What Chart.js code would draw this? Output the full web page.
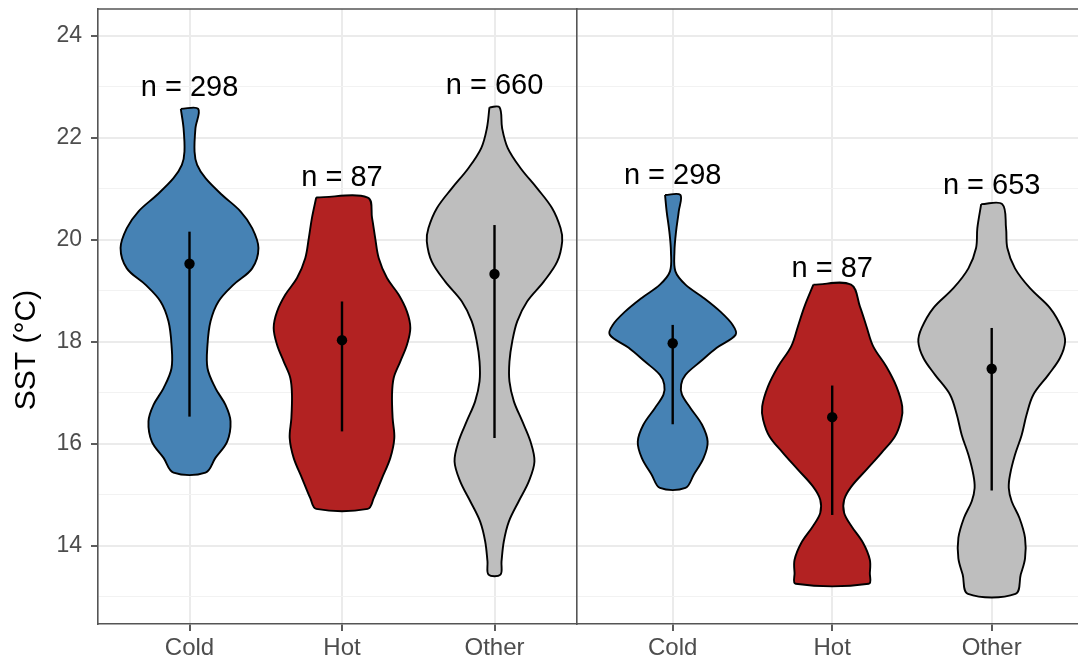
<!DOCTYPE html>
<html>
<head>
<meta charset="utf-8">
<script src="https://cdn.jsdelivr.net/npm/chart.js@4.4.1/dist/chart.umd.min.js"></script>
<style>
  html, body { margin: 0; padding: 0; background: #fff; }
  #wrap { position: relative; width: 1078px; height: 662px; overflow: hidden; }
  #leftBox { position: absolute; left: 0; top: 0; width: 577px; height: 662px; }
  #rightBox { position: absolute; left: 570px; top: 0; width: 508px; height: 662px; }
</style>
</head>
<body>
<div id="wrap">
  <div id="leftBox"><canvas id="leftPanel" width="577" height="662"></canvas></div>
  <div id="rightBox"><canvas id="rightPanel" width="508" height="662"></canvas></div>
</div>
<script>
const categories = ['Cold', 'Hot', 'Other'];
const yTicks = [13, 14, 15, 16, 17, 18, 19, 20, 21, 22, 23, 24];

// violin outlines: SST levels (top to bottom) and half widths (category units)
// left panel
const coldL_sst = [22.57, 22.19, 21.73, 21.47, 21.21, 20.88, 20.56, 20.23, 19.84, 19.44, 19.12, 18.79, 18.40, 17.94, 17.48, 17.09, 16.76, 16.44, 16.04, 15.72, 15.43];
const coldL_half = [0.057, 0.039, 0.033, 0.050, 0.105, 0.214, 0.334, 0.411, 0.452, 0.411, 0.289, 0.190, 0.138, 0.118, 0.118, 0.170, 0.236, 0.269, 0.247, 0.170, 0.105];
const hotL_sst = [20.83, 20.43, 20.03, 19.64, 19.25, 18.92, 18.59, 18.27, 17.94, 17.61, 17.29, 16.96, 16.50, 16.11, 15.72, 15.32, 14.93, 14.72];
const hotL_half = [0.169, 0.197, 0.218, 0.241, 0.295, 0.372, 0.426, 0.448, 0.426, 0.382, 0.339, 0.328, 0.332, 0.343, 0.317, 0.262, 0.208, 0.169];
const otherL_sst = [22.60, 22.19, 21.80, 21.41, 21.01, 20.62, 20.23, 19.97, 19.57, 19.18, 18.79, 18.40, 18.00, 17.61, 17.22, 16.83, 16.44, 16.04, 15.65, 15.26, 14.87, 14.47, 14.08, 13.69, 13.43];
const otherL_half = [0.033, 0.050, 0.087, 0.170, 0.280, 0.378, 0.433, 0.444, 0.411, 0.323, 0.214, 0.149, 0.116, 0.098, 0.098, 0.127, 0.182, 0.236, 0.262, 0.225, 0.159, 0.094, 0.061, 0.046, 0.039];

// right panel
const coldR_sst = [20.88, 20.56, 20.16, 19.77, 19.38, 19.12, 18.86, 18.59, 18.33, 18.14, 17.88, 17.61, 17.35, 17.16, 16.96, 16.70, 16.37, 16.04, 15.72, 15.39, 15.13];
const coldR_half = [0.048, 0.038, 0.021, 0.011, 0.017, 0.080, 0.194, 0.299, 0.376, 0.395, 0.276, 0.174, 0.080, 0.053, 0.058, 0.111, 0.184, 0.219, 0.194, 0.132, 0.080];
const hotR_sst = [19.12, 18.69, 18.30, 17.91, 17.51, 17.12, 16.73, 16.47, 16.14, 15.82, 15.49, 15.16, 14.90, 14.64, 14.38, 14.05, 13.72, 13.46, 13.25];
const hotR_half = [0.118, 0.174, 0.215, 0.257, 0.340, 0.403, 0.439, 0.433, 0.393, 0.309, 0.215, 0.121, 0.075, 0.075, 0.121, 0.194, 0.236, 0.236, 0.229];
const otherR_sst = [20.70, 20.23, 19.84, 19.44, 19.05, 18.66, 18.27, 18.00, 17.68, 17.35, 16.96, 16.57, 16.17, 15.78, 15.39, 15.13, 14.87, 14.54, 14.15, 13.75, 13.43, 13.05];
const otherR_half = [0.066, 0.090, 0.098, 0.146, 0.240, 0.366, 0.439, 0.460, 0.428, 0.355, 0.261, 0.219, 0.188, 0.146, 0.115, 0.107, 0.125, 0.174, 0.209, 0.209, 0.182, 0.149];

// point + range per category
const meanL = [19.53, 18.03, 19.33];
const lowL = [16.53, 16.24, 16.11];
const highL = [20.16, 18.79, 20.29];
const meanR = [17.97, 16.52, 17.47];
const lowR = [16.38, 14.60, 15.08];
const highR = [18.33, 17.14, 18.27];

// sample size labels
const countsL = [298, 87, 660];
const countsR = [298, 87, 653];
const countAtL = [22.98, 21.22, 23.02];
const countAtR = [21.26, 19.43, 21.06];

const fills = ['#4682b4', '#b22222', '#bebebe'];

Chart.defaults.font.family = "'Liberation Sans', Arial, sans-serif";

function outline(sst, half, center) {
    const left = sst.map((y, i) => ({ x: center - half[i], y }));
    const right = sst.map((y, i) => ({ x: center + half[i], y })).reverse();
    return [...left, ...right, left[0]];
}

// no extra room for labels at the ends of an axis
function noScalePadding(scale) {
    scale.paddingTop = 0;
    scale.paddingBottom = 0;
    scale.paddingLeft = 0;
    scale.paddingRight = 0;
}

const panelTop = {
    id: 'panelTop',
    afterDraw(chart) {
        const { ctx, chartArea } = chart;
        ctx.save();
        ctx.strokeStyle = '#555';
        ctx.lineWidth = 1.6;
        ctx.beginPath();
        ctx.moveTo(chartArea.left, chartArea.top);
        ctx.lineTo(chartArea.right, chartArea.top);
        ctx.stroke();
        ctx.restore();
    }
};

const countLabels = {
    id: 'countLabels',
    afterDatasetsDraw(chart, args, opts) {
        const { ctx } = chart;
        const x = chart.scales.x;
        const y = chart.scales.y;
        ctx.save();
        ctx.font = "29px 'Liberation Sans', Arial, sans-serif";
        ctx.fillStyle = '#000';
        ctx.textAlign = 'center';
        ctx.textBaseline = 'middle';
        opts.counts.forEach((n, i) => {
            ctx.fillText('n = ' + n, x.getPixelForValue(i + 1), y.getPixelForValue(opts.at[i]));
        });
        ctx.restore();
    }
};

const yTitle = {
    id: 'yTitle',
    afterDraw(chart, args, opts) {
        if (!opts.text) {
            return;
        }
        const { ctx } = chart;
        ctx.save();
        ctx.translate(27, 350);
        ctx.rotate(-Math.PI / 2);
        ctx.font = "30px 'Liberation Sans', Arial, sans-serif";
        ctx.fillStyle = '#000';
        ctx.textAlign = 'center';
        ctx.textBaseline = 'middle';
        ctx.fillText(opts.text, 0, 0);
        ctx.restore();
    }
};

function createPanel(canvasId, panel) {
    const datasets = [];
    panel.violins.forEach((v, i) => {
        datasets.push({
            type: 'line',
            data: outline(v.sst, v.half, i + 1),
            fill: 'shape',
            backgroundColor: fills[i],
            borderColor: '#000',
            borderWidth: 1.9,
            tension: 0.35,
            pointRadius: 0,
            order: 3,
        });
        datasets.push({
            type: 'line',
            data: [{ x: i + 1, y: panel.low[i] }, { x: i + 1, y: panel.high[i] }],
            borderColor: '#000',
            borderWidth: 2.4,
            pointRadius: 0,
            fill: false,
            order: 2,
        });
    });
    datasets.push({
        type: 'scatter',
        data: panel.mean.map((m, i) => ({ x: i + 1, y: m })),
        backgroundColor: '#000',
        borderWidth: 0,
        pointRadius: 5.2,
        order: 1,
    });

    const major = (ctx) => ctx.tick && ctx.tick.value % 2 === 0;

    return new Chart(document.getElementById(canvasId), {
        type: 'scatter',
        data: { datasets },
        plugins: [panelTop, countLabels, yTitle],
        options: {
            responsive: false,
            animation: false,
            events: [],
            layout: {
                autoPadding: false,
                padding: { top: 9, left: panel.padLeft, right: 0, bottom: 0 },
            },
            plugins: {
                legend: { display: false },
                tooltip: { enabled: false },
                countLabels: { counts: panel.counts, at: panel.countAt },
                yTitle: { text: panel.title },
            },
            scales: {
                x: {
                    type: 'linear',
                    bounds: 'data',
                    min: 0.4,
                    max: 0.4 + panel.width / panel.unit,
                    afterBuildTicks: (scale) => {
                        scale.ticks = categories.map((_, i) => ({ value: i + 1 }));
                    },
                    afterFit: (scale) => {
                        scale.height = 38;
                        noScalePadding(scale);
                    },
                    ticks: {
                        callback: (value) => categories[value - 1],
                        font: { size: 24 },
                        color: '#4d4d4d',
                        padding: 3,
                        maxRotation: 0,
                        autoSkip: false,
                    },
                    grid: { color: '#ebebeb', lineWidth: 2, tickColor: '#333', tickLength: 7, tickWidth: 1.6 },
                    border: { color: '#555', width: 1.6 },
                },
                y: {
                    type: 'linear',
                    bounds: 'data',
                    min: 12.46,
                    max: 24.53,
                    afterBuildTicks: (scale) => {
                        scale.ticks = yTicks.map((v) => ({ value: v }));
                    },
                    afterFit: (scale) => {
                        scale.width = panel.title ? 98 : 0;
                        noScalePadding(scale);
                    },
                    ticks: {
                        display: !!panel.title,
                        callback: (value) => (value % 2 === 0 ? String(value) : ''),
                        font: { size: 23 },
                        color: '#4d4d4d',
                        padding: 9,
                    },
                    grid: {
                        color: (ctx) => (major(ctx) ? '#ebebeb' : '#f2f2f2'),
                        lineWidth: (ctx) => (major(ctx) ? 2 : 1),
                        drawTicks: !!panel.title,
                        tickLength: 7,
                        tickWidth: 1.6,
                        tickColor: (ctx) => (major(ctx) ? '#333' : 'rgba(0,0,0,0)'),
                    },
                    border: { color: '#555', width: 1.6 },
                },
            },
        },
    });
}

createPanel('leftPanel', {
    violins: [
        { sst: coldL_sst, half: coldL_half },
        { sst: hotL_sst, half: hotL_half },
        { sst: otherL_sst, half: otherL_half },
    ],
    mean: meanL, low: lowL, high: highL,
    counts: countsL, countAt: countAtL,
    title: 'SST (°C)',
    unit: 152.5, width: 479, padLeft: 0,
});

createPanel('rightPanel', {
    violins: [
        { sst: coldR_sst, half: coldR_half },
        { sst: hotR_sst, half: hotR_half },
        { sst: otherR_sst, half: otherR_half },
    ],
    mean: meanR, low: lowR, high: highR,
    counts: countsR, countAt: countAtR,
    title: '',
    unit: 159.5, width: 501, padLeft: 7,
});
</script>
</body>
</html>
